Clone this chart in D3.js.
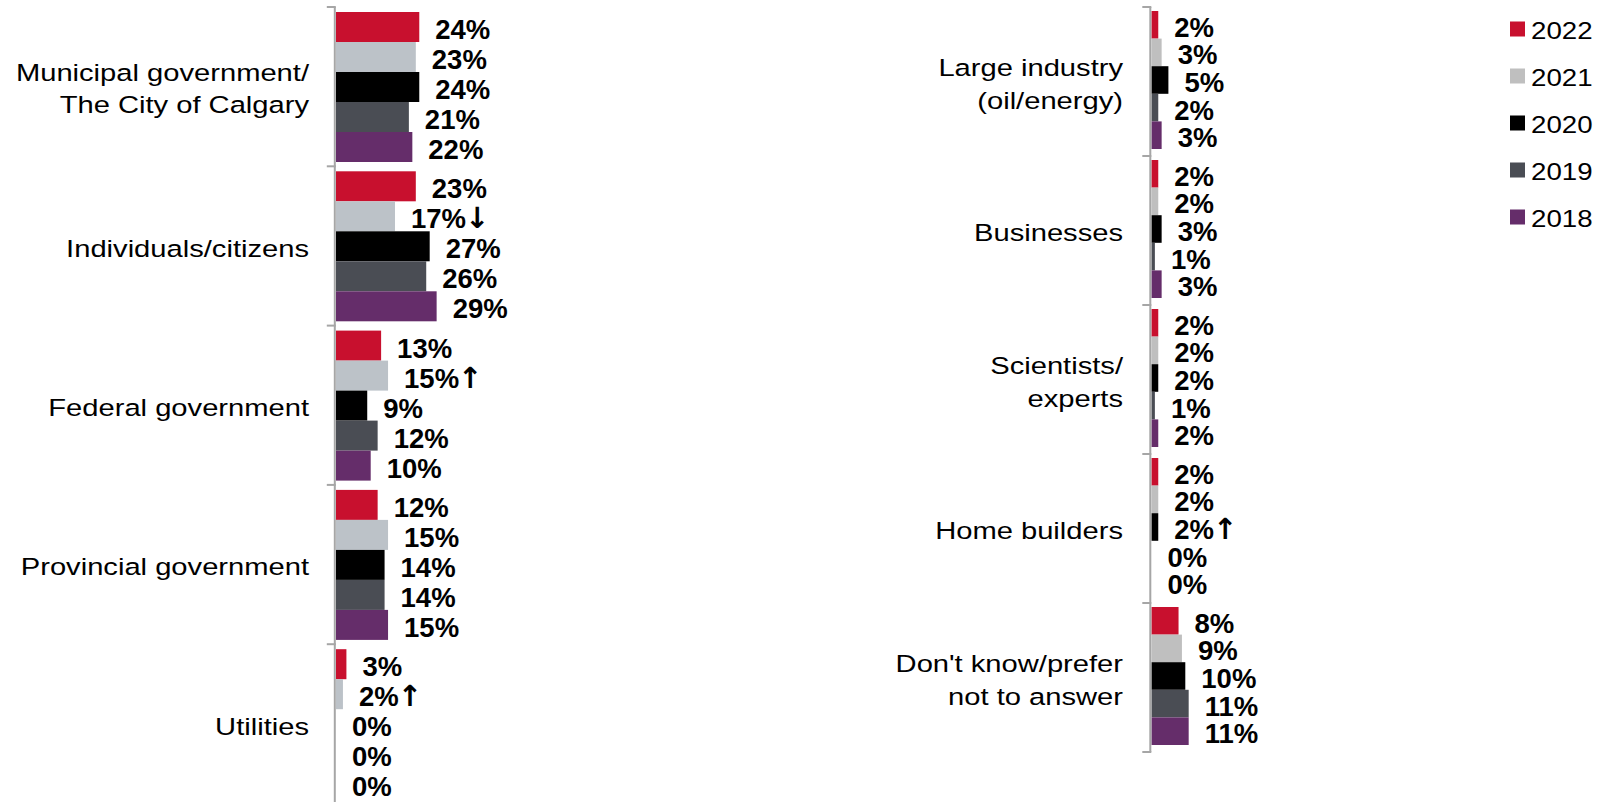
<!DOCTYPE html>
<html>
<head>
<meta charset="utf-8">
<script src="https://cdn.jsdelivr.net/npm/d3@7"></script>
<style>
  html, body { margin: 0; padding: 0; background: #fff; }
  svg { display: block; font-family: "Liberation Sans", Arial, sans-serif; }
</style>
</head>
<body>
<svg id="chart" width="1609" height="802"></svg>
<script>
// ---------- DATA ----------
const years = ["2022", "2021", "2020", "2019", "2018"];

const leftCategories = [
  ["Municipal government/", "The City of Calgary"],
  ["Individuals/citizens"],
  ["Federal government"],
  ["Provincial government"],
  ["Utilities"]
];
const leftValues2022 = [24, 23, 13, 12, 3];
const leftValues2021 = [23, 17, 15, 15, 2];
const leftValues2020 = [24, 27, 9, 14, 0];
const leftValues2019 = [21, 26, 12, 14, 0];
const leftValues2018 = [22, 29, 10, 15, 0];
// significance markers: [categoryIndex, year, arrow]
const leftMarkers = [[1, "2021", "↓"], [2, "2021", "↑"], [4, "2021", "↑"]];

const rightCategories = [
  ["Large industry", "(oil/energy)"],
  ["Businesses"],
  ["Scientists/", "experts"],
  ["Home builders"],
  ["Don't know/prefer", "not to answer"]
];
const rightValues2022 = [2, 2, 2, 2, 8];
const rightValues2021 = [3, 2, 2, 2, 9];
const rightValues2020 = [5, 3, 2, 2, 10];
const rightValues2019 = [2, 1, 1, 0, 11];
const rightValues2018 = [3, 3, 2, 0, 11];
const rightMarkers = [[3, "2020", "↑"]];

const legendLabels = ["2022", "2021", "2020", "2019", "2018"];

// ---------- STYLE ----------
const colorsLeft  = {"2022": "#c8102e", "2021": "#bcc2c8", "2020": "#000000", "2019": "#4a4d54", "2018": "#652d6a"};
const colorsRight = {"2022": "#c8102e", "2021": "#bfbfbf", "2020": "#000000", "2019": "#4a4d54", "2018": "#652d6a"};

const svg = d3.select("#chart");

function buildRows(cats, v22, v21, v20, v19, v18, markers) {
  const series = {"2022": v22, "2021": v21, "2020": v20, "2019": v19, "2018": v18};
  const rows = [];
  cats.forEach((c, i) => {
    years.forEach(y => {
      const m = markers.find(mk => mk[0] === i && mk[1] === y);
      rows.push({cat: c.join(" "), lines: c, year: y, value: series[y][i], marker: m ? m[2] : ""});
    });
  });
  return rows;
}

function drawPanel(cfg) {
  const rows = buildRows(cfg.cats, ...cfg.values, cfg.markers);
  const catNames = cfg.cats.map(c => c.join(" "));
  const y = d3.scaleBand().domain(catNames).range(cfg.yRange).padding(0);
  const bw = y.bandwidth();
  const yIn = d3.scaleBand().domain(years).range([cfg.innerTop, bw - cfg.innerBottom]).padding(0);
  const x = d3.scaleLinear().domain([0, 30]).range([cfg.x0, cfg.x0 + 30 * cfg.pxPer]);

  const g = svg.append("g");

  // bars
  g.selectAll("rect.bar").data(rows).join("rect")
    .attr("class", "bar")
    .attr("x", x(0))
    .attr("y", d => y(d.cat) + yIn(d.year))
    .attr("width", d => x(d.value) - x(0))
    .attr("height", yIn.bandwidth())
    .attr("fill", d => cfg.colors[d.year]);

  // axis line + bracket ticks
  const axisX = cfg.x0 - 1.2;
  g.append("line")
    .attr("x1", axisX).attr("x2", axisX)
    .attr("y1", cfg.yRange[0]).attr("y2", cfg.axisBottom)
    .attr("stroke", "#a6a6a6").attr("stroke-width", 2);
  const tickYs = catNames.map(c => y(c)).concat([y(catNames[catNames.length - 1]) + bw]);
  g.selectAll("line.tick").data(tickYs).join("line")
    .attr("class", "tick")
    .attr("x1", axisX - 8).attr("x2", axisX + 1)
    .attr("y1", d => d).attr("y2", d => d)
    .attr("stroke", "#a6a6a6").attr("stroke-width", 2);

  // value labels
  const vt = g.selectAll("text.val").data(rows).join("text")
    .attr("class", "val")
    .attr("x", d => x(d.value) + 16)
    .attr("y", d => y(d.cat) + yIn(d.year) + yIn.bandwidth() / 2 + 2)
    .attr("dy", "0.36em")
    .attr("font-size", 27.5)
    .attr("font-weight", "bold")
    .attr("fill", "#000");
  vt.append("tspan").text(d => d.value + "%");
  vt.filter(d => d.marker).append("tspan")
    .attr("font-family", "DejaVu Sans")
    .attr("font-weight", "bold")
    .attr("font-size", 29)
    .attr("dx", -1)
    .text(d => d.marker);

  // category labels
  const lineH = cfg.lineH;
  const labG = g.selectAll("g.cat").data(cfg.cats).join("g")
    .attr("class", "cat")
    .attr("transform", (c, i) => `translate(${cfg.labelX},${y(catNames[i]) + bw / 2 + 2}) scale(1.19,1)`);
  labG.each(function(c) {
    const n = c.length;
    d3.select(this).selectAll("text").data(c).join("text")
      .attr("x", 0)
      .attr("y", (t, j) => (j - (n - 1) / 2) * lineH)
      .attr("dy", "0.36em")
      .attr("text-anchor", "end")
      .attr("font-size", 24.5)
      .attr("fill", "#000")
      .text(t => t);
  });
}

drawPanel({
  cats: leftCategories,
  values: [leftValues2022, leftValues2021, leftValues2020, leftValues2019, leftValues2018],
  markers: leftMarkers,
  yRange: [7, 803.5],
  innerTop: 5, innerBottom: 4.3,
  x0: 336, pxPer: 3.47,
  axisBottom: 802,
  labelX: 309,
  lineH: 32,
  colors: colorsLeft
});

drawPanel({
  cats: rightCategories,
  values: [rightValues2022, rightValues2021, rightValues2020, rightValues2019, rightValues2018],
  markers: rightMarkers,
  yRange: [7, 752],
  innerTop: 4, innerBottom: 7,
  x0: 1151.5, pxPer: 3.38,
  axisBottom: 752,
  labelX: 1123,
  lineH: 33,
  colors: colorsRight
});

// legend
const legY = d3.scalePoint().domain(legendLabels).range([29, 217]);
const leg = svg.append("g");
leg.selectAll("rect").data(legendLabels).join("rect")
  .attr("x", 1510).attr("y", d => legY(d) - 7.5)
  .attr("width", 15).attr("height", 15)
  .attr("fill", d => colorsRight[d]);
leg.selectAll("text").data(legendLabels).join("text")
  .attr("transform", d => `translate(1531,${legY(d) + 1}) scale(1.13,1)`)
  .attr("dy", "0.36em")
  .attr("font-size", 24.5)
  .attr("fill", "#000")
  .text(d => d);
</script>
</body>
</html>
